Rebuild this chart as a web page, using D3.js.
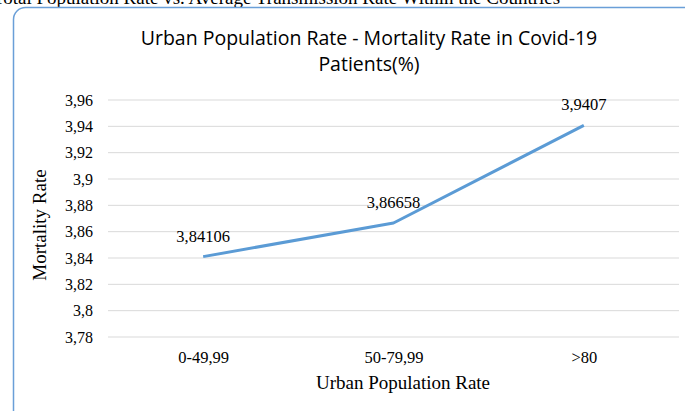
<!DOCTYPE html>
<html>
<head>
<meta charset="utf-8">
<script src="https://cdn.jsdelivr.net/npm/d3@7"></script>
<style>
  html, body { margin: 0; padding: 0; background: #fff; }
  svg { display: block; }
</style>
</head>
<body>
<div id="chart"></div>
<script>
// Urban Population Rate vs. Mortality Rate (Covid-19), Liniendiagramm

const categories = ["0-49,99", "50-79,99", ">80"];
const mortality  = [3.84106, 3.86658, 3.9407];
const yTicks     = [3.78, 3.80, 3.82, 3.84, 3.86, 3.88, 3.90, 3.92, 3.94, 3.96];

const W = 685, H = 411;
const M = { top: 100, right: 6, bottom: 74, left: 108 };
const SERIF = "'Liberation Serif', 'Times New Roman', serif";

const svg = d3.select("#chart").append("svg").attr("width", W).attr("height", H);

// Komma als Dezimaltrenner
const comma = v => String(+v.toFixed(5)).replace(".", ",");

// Textzeile oben (abgeschnitten, aus dem Dokument)
svg.append("text")
  .attr("x", -7).attr("y", 4)
  .style("font-family", SERIF)
  .style("font-size", "19px").style("fill", "#000")
  .text("Total Population Rate vs. Average Transmission Rate Within the Countries");

// Rahmen
svg.append("rect")
  .attr("x", 13.5).attr("y", 7.5)
  .attr("width", 720).attr("height", 420)
  .attr("rx", 12).attr("ry", 12)
  .attr("fill", "#fff").attr("stroke", "#6a9fd8").attr("stroke-width", 1.5);

const x = d3.scalePoint()
  .domain(categories)
  .range([M.left, W - M.right])
  .padding(0.5);

const y = d3.scaleLinear()
  .domain([3.78, 3.96])
  .range([H - M.bottom, M.top]);

// Gitterlinien
svg.append("g").selectAll("line").data(yTicks).join("line")
  .attr("x1", M.left).attr("x2", W - M.right)
  .attr("y1", d => y(d)).attr("y2", d => y(d))
  .attr("stroke", "#d9d9d9").attr("stroke-width", 1);

// Y-Achse (nur Beschriftung)
const yAxis = svg.append("g").attr("transform", `translate(${M.left},0)`)
  .call(d3.axisLeft(y).tickValues(yTicks).tickSize(0).tickPadding(15).tickFormat(comma));
yAxis.select(".domain").remove();
yAxis.selectAll("text")
  .style("font-family", SERIF)
  .style("font-size", "16px").style("fill", "#000");

// X-Achse (nur Beschriftung)
const xAxis = svg.append("g").attr("transform", `translate(0,${H - M.bottom})`)
  .call(d3.axisBottom(x).tickSize(0).tickPadding(14));
xAxis.select(".domain").remove();
xAxis.selectAll("text")
  .style("font-family", SERIF)
  .style("font-size", "16.5px").style("fill", "#000");

// Linie
const data = categories.map((c, i) => ({ c, v: mortality[i] }));
svg.append("path")
  .datum(data)
  .attr("fill", "none")
  .attr("stroke", "#5b9bd5").attr("stroke-width", 3)
  .attr("stroke-linejoin", "round")
  .attr("d", d3.line().x(d => x(d.c)).y(d => y(d.v)));

// Datenbeschriftungen
svg.append("g").selectAll("text").data(data).join("text")
  .attr("x", d => x(d.c)).attr("y", d => y(d.v) - 15)
  .attr("text-anchor", "middle")
  .style("font-family", SERIF)
  .style("font-size", "16.5px").style("fill", "#000")
  .text(d => comma(d.v));

// Titel (zwei Zeilen)
const titleStyle = t => t.attr("text-anchor", "middle")
  .style("font-family", "'Open Sans', 'Noto Sans', sans-serif")
  .style("font-size", "19.5px").style("fill", "#000");
svg.append("text").attr("x", 369).attr("y", 45).call(titleStyle)
  .text("Urban Population Rate - Mortality Rate in Covid-19");
svg.append("text").attr("x", 369).attr("y", 71).call(titleStyle)
  .text("Patients(%)");

// Achsentitel
svg.append("text")
  .attr("x", 403).attr("y", 389)
  .attr("text-anchor", "middle")
  .style("font-family", SERIF)
  .style("font-size", "19px").style("fill", "#000")
  .text("Urban Population Rate");

svg.append("text")
  .attr("transform", `translate(46, 225) rotate(-90)`)
  .attr("text-anchor", "middle")
  .style("font-family", SERIF)
  .style("font-size", "19px").style("fill", "#000")
  .text("Mortality Rate");
</script>
</body>
</html>
